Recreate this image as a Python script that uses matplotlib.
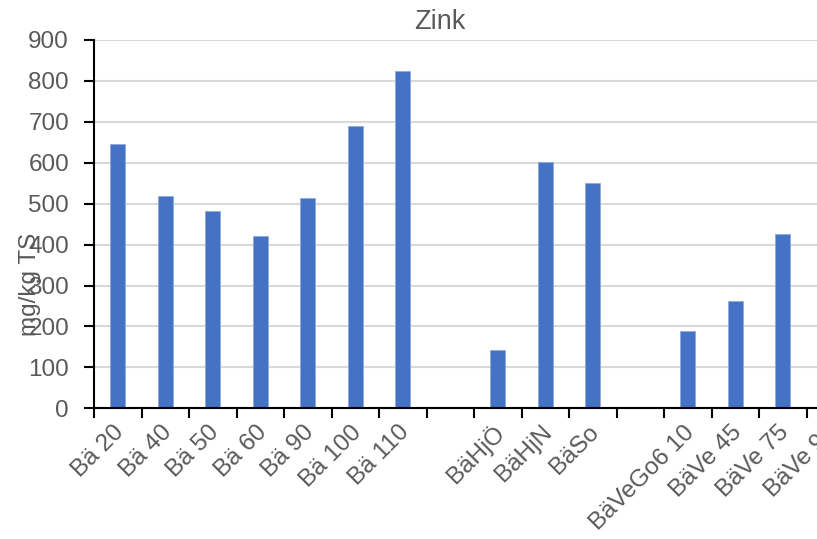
import matplotlib.pyplot as plt
import matplotlib.transforms as mtransforms
import numpy as np

# Zink, mg/kg TS (empty labels are gaps in the category axis)
categories = ["Bä 20", "Bä 40", "Bä 50", "Bä 60", "Bä 90", "Bä 100", "Bä 110", "",
              "BäHjÖ", "BäHjN", "BäSo", "",
              "BäVeGo6 10", "BäVe 45", "BäVe 75", "BäVe 90"]
values = [646, 518, 482, 422, 514, 691, 824, np.nan,
          143, 603, 550, np.nan,
          189, 263, 426, np.nan]
y_ticks = [0, 100, 200, 300, 400, 500, 600, 700, 800, 900]

plt.rcParams['font.family'] = ['Liberation Sans', 'DejaVu Sans']
text_color = '#595959'

fig = plt.figure(figsize=(8.17, 5.39), dpi=100)
# plot area runs past the right edge of the picture, as in the reference
ax = fig.add_axes([94 / 817, 130.7 / 539, 760 / 817, 368.3 / 539])

x = np.arange(len(categories))
ax.bar(x, values, width=0.32, color='#4472C4', edgecolor='#8FAADC', linewidth=0.6, zorder=3)

ax.set_xlim(-0.5, len(categories) - 0.5)
ax.set_ylim(0, 900)
ax.set_yticks(y_ticks)
ax.grid(axis='y', color='#d9d9d9', linewidth=1.5, zorder=0)

# tick marks on category boundaries, labels on category centres
ax.set_xticks(np.arange(len(categories) + 1) - 0.5)
ax.set_xticklabels([])
ax.set_xticks(x, categories, minor=True)
ax.tick_params(axis='x', which='major', direction='out', length=7, width=1.5, color='black')
ax.tick_params(axis='x', which='minor', length=0, pad=15, labelsize=17.5, labelcolor=text_color)
shift = mtransforms.ScaledTranslation(3 / 100, 0, fig.dpi_scale_trans)
for lab in ax.get_xticklabels(minor=True):
    lab.set_rotation(45)
    lab.set_ha('right')
    lab.set_va('center')
    lab.set_rotation_mode('anchor')
    lab.set_transform(lab.get_transform() + shift)
ax.tick_params(axis='y', direction='out', length=7, width=1.5, color='black',
               pad=11, labelsize=17.5, labelcolor=text_color)

for side in ['top', 'right']:
    ax.spines[side].set_visible(False)
for side in ['left', 'bottom']:
    ax.spines[side].set_linewidth(1.5)
    ax.spines[side].set_color('black')
    ax.spines[side].set_zorder(4)

fig.text(440 / 817, 1 - 22 / 539, "Zink", ha='center', va='center', fontsize=19.5, color=text_color)
fig.text(30 / 817, 1 - 284 / 539, "mg/kg TS", ha='center', va='center', rotation=90,
         fontsize=17.5, color=text_color)

fig.savefig("out.png", dpi=100)
